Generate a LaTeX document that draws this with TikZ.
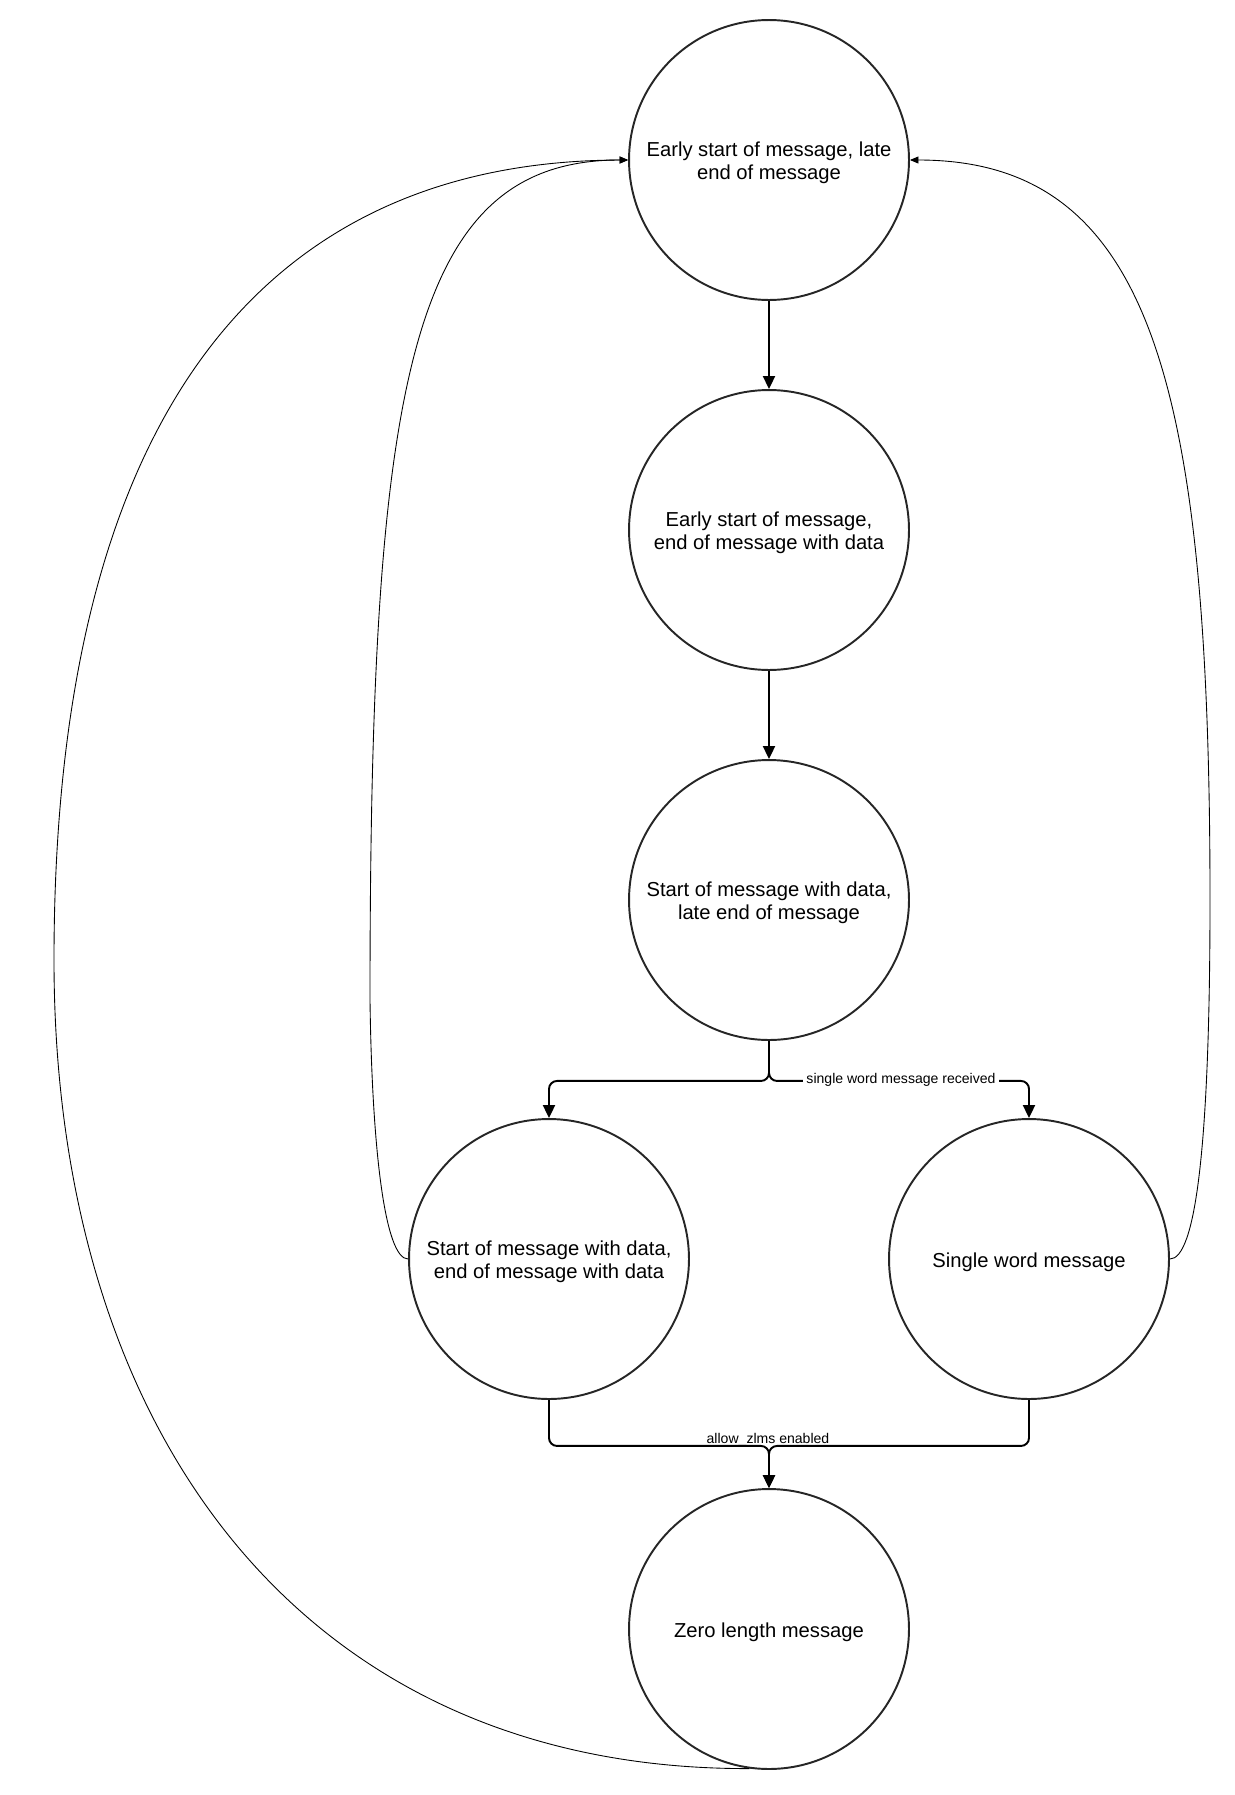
\documentclass[tikz,border=0pt]{standalone}
\usepackage{fontspec}
\setmainfont{Liberation Sans}
\usetikzlibrary{positioning,calc,arrows.meta}

\begin{document}
\begin{tikzpicture}[
    x=0.02cm, y=-0.02cm,
    % Style state circle
    statenode/.style={circle, draw=black!85, line width=1.1pt, minimum size=5.6cm, inner sep=0pt},
    % Style text inside a state
    statetext/.style={align=center, inner sep=0pt, font=\fontsize{11.5}{13}\selectfont},
    % Style thick connector
    flow/.style={draw=black, line width=1.1pt, rounded corners=0.16cm, -{Triangle[length=0.26cm, width=0.24cm]}},
    % Style thin curve back to the first state
    backflow/.style={draw=black, line width=0.5pt, -{Triangle[length=0.17cm, width=0.14cm]}},
    % Style connector label
    elabel/.style={font=\fontsize{8}{9.6}\selectfont, inner sep=0pt}
]
\useasboundingbox (0,0) rectangle (1234,1795);

% --- STATES ---
\node[statenode] (early) at (769,160) {};
\node[statenode] (earlydata) at (769,530) {};
\node[statenode] (latend) at (769,900) {};
\node[statenode] (both) at (549,1259) {};
\node[statenode] (single) at (1029,1259) {};
\node[statenode] (zero) at (769,1629) {};

% --- STATE TEXTS ---
\node[statetext] (earlytxt) at ([yshift=-0.06cm]early.center) {Early start of message, late\\end of message};
\node[statetext] (earlydatatxt) at ([yshift=-0.06cm]earlydata.center) {Early start of message,\\end of message with data};
\node[statetext] (latendtxt) at ([yshift=-0.06cm]latend.center) {Start of message with data,\\late end of message};
\node[statetext] (bothtxt) at ([yshift=-0.06cm]both.center) {Start of message with data,\\end of message with data};
\node[statetext] (singletxt) at ([yshift=-0.06cm]single.center) {Single word message};
\node[statetext] (zerotxt) at ([yshift=-0.06cm]zero.center) {Zero length message};

% --- THICK CONNECTORS ---
\draw[flow] (early) -- (earlydata);
\draw[flow] (earlydata) -- (latend);
\draw[flow] (latend.south) -- ++(0,40) -| (both.north);
\draw[flow] (latend.south) -- ++(0,40) -| (single.north);
\draw[flow] (both.south) -- ++(0,46) -| (zero.north);
\draw[flow] (single.south) -- ++(0,46) -| (zero.north);

% --- CURVES BACK TO THE FIRST STATE ---
\draw[backflow] (zero.262) .. controls (300,1770) and (54,1430) .. (54,960) .. controls (54,420) and (260,161) .. (early.west);
\draw[backflow] (both.west) .. controls (385,1259) and (372,1150) .. (370,1000) .. controls (370,380) and (410,160) .. (early.west);
\draw[backflow] (single.east) .. controls (1195,1259) and (1210,1150) .. (1210,900) .. controls (1210,380) and (1150,160) .. (early.east);

% --- LABELS ---
\node[elabel, fill=white, inner xsep=0.06cm, inner ysep=0.04cm] (lblsingle) at (901,1080) {single word message received};
\node[elabel, anchor=base] (lblzlms) at (768,1443) {allow\_zlms enabled};

\end{tikzpicture}
\end{document}
